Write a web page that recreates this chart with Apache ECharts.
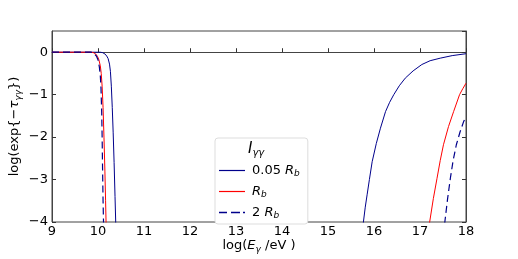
<!DOCTYPE html>
<html><head><meta charset="utf-8">
<script src="https://cdn.jsdelivr.net/npm/echarts@6/dist/echarts.min.js"></script>
<style>html,body{margin:0;padding:0;background:#fff}#c{width:518px;height:259px}</style>
</head><body><div id="c"></div>
<script>
// Series: 0.05 R_b (solid blue)
const xSmall = [9, 9.5, 10.05, 10.10, 10.15, 10.19, 10.22, 10.25, 10.27, 10.29, 10.31, 10.33, 10.35, 10.37, 10.385, 10.39, null,
  15.74, 15.77, 15.81, 15.85, 15.90, 15.96, 16.05, 16.14, 16.25, 16.34, 16.43, 16.55, 16.68, 16.85, 17.04, 17.22, 17.44, 17.70, 18.0];
const ySmall = [0, 0, 0, -0.01, -0.04, -0.09, -0.15, -0.28, -0.45, -0.8, -1.3, -1.9, -2.6, -3.4, -4.0, -4.3, null,
  -4.3, -4.0, -3.65, -3.36, -3.0, -2.58, -2.15, -1.79, -1.40, -1.18, -1.0, -0.79, -0.61, -0.44, -0.29, -0.20, -0.14, -0.08, -0.035];
// Series: R_b (solid red)
const xMid = [9, 9.5, 9.85, 9.90, 9.95, 9.99, 10.02, 10.05, 10.07, 10.09, 10.11, 10.13, 10.15, 10.165, 10.175, 10.18, null,
  17.18, 17.21, 17.29, 17.37, 17.44, 17.51, 17.62, 17.73, 17.86, 17.93, 18.0];
const yMid = [0, 0, 0, -0.01, -0.04, -0.10, -0.18, -0.32, -0.5, -0.8, -1.3, -2.0, -2.8, -3.5, -4.0, -4.3, null,
  -4.3, -4.0, -3.45, -2.97, -2.55, -2.18, -1.75, -1.40, -1.0, -0.86, -0.73];
// Series: 2 R_b (dashed dark blue)
const xLarge = [9, 9.5, 9.85, 9.90, 9.94, 9.97, 10.00, 10.03, 10.05, 10.065, 10.08, 10.09, 10.10, 10.11, 10.12, 10.125, null,
  17.52, 17.54, 17.60, 17.66, 17.72, 17.79, 17.87, 17.95, 18.0];
const yLarge = [0, 0, 0, -0.01, -0.04, -0.10, -0.18, -0.35, -0.55, -0.85, -1.4, -2.0, -2.8, -3.5, -4.0, -4.3, null,
  -4.3, -4.0, -3.45, -2.97, -2.55, -2.18, -1.88, -1.63, -1.53];

const xTicks = [9, 10, 11, 12, 13, 14, 15, 16, 17, 18];
const yTicks = [-4, -3, -2, -1, 0];

function pairs(xs, ys) { return xs.map((x, i) => [x, ys[i]]); }
const fmtMinus = v => (yTicks.indexOf(v) < 0 ? '' : (v < 0 ? '\u2212' + Math.abs(v) : String(v)));

const font = 'DejaVu Sans';
const blue = '#00008B', red = '#ff0000';
const tickStyle = { inside: true, length: 4, lineStyle: { color: '#333' } };
const dash = [7, 4];
const solidIcon = 'path://M0,0h26v1.2h-26z';
const dashIcon = 'path://M0,0h8v1.3h-8zM12,0h9v1.3h-9zM24,0h2v1.3h-2z';

const chart = echarts.init(document.getElementById('c'), null, { renderer: 'canvas' });
chart.setOption({
  animation: false,
  backgroundColor: '#fff',
  grid: { left: 52, right: 52, top: 31, bottom: 37, outerBoundsMode: 'none', containLabel: false,
    show: true, borderColor: '#444', borderWidth: 1, backgroundColor: 'transparent' },
  title: {
    text: '{i|I}{s|γγ}',
    left: 248, top: 140,
    textStyle: { fontWeight: 'normal', rich: {
      i: { fontFamily: font, fontStyle: 'italic', fontWeight: 'normal', fontSize: 15, color: '#000' },
      s: { fontFamily: font, fontStyle: 'italic', fontWeight: 'normal', fontSize: 10, color: '#000', verticalAlign: 'bottom', padding: [8, 0, 0, 0] }
    } },
    padding: 0
  },
  legend: {
    orient: 'vertical',
    left: 215, top: 138,
    padding: [26, 8, 4, 4],
    itemWidth: 26, itemHeight: 10, itemGap: 7,
    borderColor: '#ddd', borderWidth: 1, borderRadius: 3,
    backgroundColor: '#fff',
    data: [
      { name: 's', icon: solidIcon, itemStyle: { color: blue } },
      { name: 'm', icon: solidIcon, itemStyle: { color: red } },
      { name: 'l', icon: dashIcon, itemStyle: { color: blue } }
    ],
    formatter: function (n) {
      if (n === 's') return '{n|0.05 }{i|R}{b|b}';
      if (n === 'm') return '{i|R}{b|b}';
      return '{n|2 }{i|R}{b|b}';
    },
    textStyle: {
      fontFamily: font, fontSize: 13, color: '#000', padding: [0, 0, 0, 2],
      rich: {
        n: { fontFamily: font, fontSize: 13, color: '#000' },
        i: { fontFamily: font, fontSize: 13, fontStyle: 'italic', color: '#000' },
        b: { fontFamily: font, fontSize: 9, fontStyle: 'italic', color: '#000', verticalAlign: 'bottom', padding: [6, 0, 0, 0] }
      }
    }
  },
  xAxis: {
    type: 'value', min: 9, max: 18, interval: 1,
    axisLine: { show: true, lineStyle: { color: '#444' } },
    axisTick: tickStyle,
    splitLine: { show: false },
    axisLabel: { fontFamily: font, fontSize: 13, color: '#000', margin: 3 },
    name: '{n|log(}{i|E}{s|γ}{n| /eV )}',
    nameLocation: 'middle', nameGap: 16, nameMoveOverlap: false,
    nameTextStyle: { rich: {
      n: { fontFamily: font, fontSize: 13, color: '#000' },
      i: { fontFamily: font, fontSize: 13, fontStyle: 'italic', color: '#000' },
      s: { fontFamily: font, fontSize: 9, fontStyle: 'italic', color: '#000', verticalAlign: 'bottom', padding: [7, 0, 0, 0] }
    } }
  },
  yAxis: [{
    type: 'value', min: -4, max: 0.5, interval: 1,
    axisLine: { show: true, lineStyle: { color: '#444' } },
    axisTick: tickStyle,
    splitLine: { show: false },
    axisLabel: { fontFamily: font, fontSize: 13, color: '#000', margin: 4, formatter: fmtMinus, showMaxLabel: false },
    name: 'log(exp{\u2212{i|τ}{s|γγ}})',
    nameLocation: 'middle', nameGap: 29, nameRotate: 90, nameMoveOverlap: false,
    nameTextStyle: { fontFamily: font, fontSize: 13, color: '#000', rich: {
      i: { fontFamily: font, fontSize: 13, fontStyle: 'italic', color: '#000' },
      s: { fontFamily: font, fontSize: 9, fontStyle: 'italic', color: '#000', verticalAlign: 'bottom', padding: [7, 0, 0, 0] }
    } }
  }, {
    type: 'value', min: -4, max: 0.5, interval: 1, position: 'right',
    axisLine: { show: true, lineStyle: { color: '#444' } },
    axisTick: tickStyle,
    splitLine: { show: false },
    axisLabel: { show: false }
  }],
  series: [
    { name: 's', type: 'line', data: pairs(xSmall, ySmall), symbol: 'none', smooth: false, connectNulls: false, clip: true,
      lineStyle: { color: blue, width: 1 }, itemStyle: { color: blue } },
    { name: 'm', type: 'line', data: pairs(xMid, yMid), symbol: 'none', smooth: false, connectNulls: false, clip: true,
      lineStyle: { color: red, width: 1 }, itemStyle: { color: red } },
    { name: 'l', type: 'line', data: pairs(xLarge, yLarge), symbol: 'none', smooth: false, connectNulls: false, clip: true,
      lineStyle: { color: blue, width: 1.2, type: dash }, itemStyle: { color: blue } }
  ]
});
</script></body></html>
